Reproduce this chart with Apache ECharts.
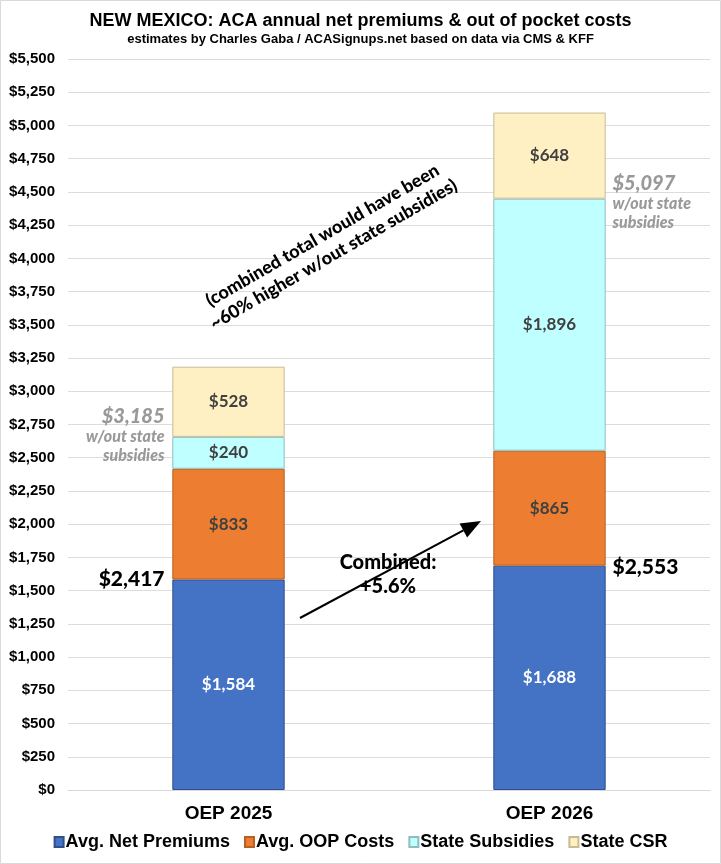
<!DOCTYPE html>
<html>
<head>
<meta charset="utf-8">
<script src="https://cdn.jsdelivr.net/npm/echarts@6/dist/echarts.min.js"></script>
<style>
  html, body { margin: 0; padding: 0; background: #fff; }
  #chart { width: 721px; height: 864px; }
</style>
</head>
<body>
<div id="chart"></div>
<script>
// data
var years = ['OEP 2025', 'OEP 2026'];
var netPremiums = [1584, 1688];
var oopCosts = [833, 865];
var stateSubsidies = [240, 1896];
var stateCSR = [528, 648];
var combinedTotals = ['$2,417', '$2,553'];
var withoutSubsidies = ['$3,185', '$5,097'];

var labelFont = 'Lato';
var axisFont = '"Liberation Sans", Arial, sans-serif';

function money(v) {
    return '$' + v.toLocaleString('en-US');
}

function segment(name, data, color, border, textColor) {
    return {
        name: name,
        type: 'bar',
        stack: 'total',
        barWidth: '35%',
        data: data,
        itemStyle: { color: color, borderColor: border, borderWidth: 1 },
        label: {
            show: true,
            position: 'inside',
            formatter: function (p) { return money(p.value); },
            color: textColor,
            fontFamily: labelFont,
            fontWeight: 'bold',
            fontSize: 17
        }
    };
}

var chartDom = document.getElementById('chart');
var myChart = echarts.init(chartDom);

option = {
    backgroundColor: '#fff',
    animation: false,
    title: {
        text: 'NEW MEXICO: ACA annual net premiums & out of pocket costs',
        subtext: 'estimates by Charles Gaba / ACASignups.net based on data via CMS & KFF',
        left: 'center',
        top: 7,
        itemGap: 3,
        textStyle: { fontFamily: axisFont, fontWeight: 'bold', fontSize: 18, color: '#000' },
        subtextStyle: { fontFamily: axisFont, fontWeight: 'bold', fontSize: 13, color: '#000' }
    },
    legend: {
        bottom: 8,
        left: 'center',
        icon: 'rect',
        itemWidth: 9,
        itemHeight: 10,
        itemGap: 14,
        textStyle: { fontFamily: axisFont, fontWeight: 'bold', fontSize: 18, color: '#000', padding: [0, 0, 0, -3] },
        data: ['Avg. Net Premiums', 'Avg. OOP Costs', 'State Subsidies', 'State CSR']
    },
    grid: { left: 68, right: 11, top: 59, bottom: 74 },
    xAxis: {
        type: 'category',
        data: years,
        axisTick: { show: false },
        axisLine: { lineStyle: { color: '#d9d9d9' } },
        axisLabel: { fontFamily: axisFont, fontWeight: 'bold', fontSize: 19, color: '#000', margin: 14 }
    },
    yAxis: {
        type: 'value',
        min: 0,
        max: 5500,
        interval: 250,
        axisLabel: {
            formatter: function (v) { return money(v); },
            fontFamily: axisFont, fontWeight: 'bold', fontSize: 15, color: '#000', margin: 13
        },
        splitLine: { lineStyle: { color: '#dcdcdc' } }
    },
    series: [
        segment('Avg. Net Premiums', netPremiums, '#4472C4', '#2f4f8a', '#fff'),
        segment('Avg. OOP Costs', oopCosts, '#ED7D31', '#b85f22', '#404040'),
        segment('State Subsidies', stateSubsidies, '#C0FFFF', '#8fbdbd', '#404040'),
        segment('State CSR', stateCSR, '#FFF0C4', '#c8bb94', '#404040')
    ]
};

myChart.setOption(option);

// annotations placed from the data scale
var g = [];
for (var i = 0; i < years.length; i++) {
    var combined = netPremiums[i] + oopCosts[i];
    var subsTop = combined + stateSubsidies[i];
    var pTop = myChart.convertToPixel({ gridIndex: 0 }, [i, netPremiums[i]]);
    var pSub = myChart.convertToPixel({ gridIndex: 0 }, [i, subsTop]);
    var left = i === 0;
    var dx = left ? -64 : 63;
    var align = left ? 'right' : 'left';
    g.push({
        type: 'text',
        x: pTop[0] + dx, y: pTop[1] + (left ? 0 : 2),
        style: {
            text: combinedTotals[i], align: align, verticalAlign: 'middle',
            font: '900 21px ' + labelFont, fill: '#000'
        }
    });
    g.push({
        type: 'text',
        x: pSub[0] + dx, y: pSub[1] + (left ? -20 : -15),
        style: {
            text: withoutSubsidies[i], align: align, verticalAlign: 'middle',
            font: 'italic 900 20px ' + labelFont, fill: '#999'
        }
    });
    g.push({
        type: 'text',
        x: pSub[0] + dx, y: pSub[1] + (left ? -10 : -4),
        style: {
            text: 'w/out state\nsubsidies', align: align, verticalAlign: 'top',
            font: 'italic 900 16px ' + labelFont, fill: '#999', lineHeight: 19
        }
    });
}

// arrow from bar 1 toward bar 2
var ax1 = 300, ay1 = 618, ax2 = 481, ay2 = 521;
var ang = Math.atan2(ay2 - ay1, ax2 - ax1);
var headLen = 20, headHalf = 8;
var bx = ax2 - headLen * Math.cos(ang), by = ay2 - headLen * Math.sin(ang);
g.push({
    type: 'line',
    shape: { x1: ax1, y1: ay1, x2: bx, y2: by },
    style: { stroke: '#000', lineWidth: 2 }
});
g.push({
    type: 'polygon',
    shape: {
        points: [
            [ax2, ay2],
            [bx + headHalf * Math.sin(ang), by - headHalf * Math.cos(ang)],
            [bx - headHalf * Math.sin(ang), by + headHalf * Math.cos(ang)]
        ]
    },
    style: { fill: '#000' }
});
g.push({
    type: 'text',
    x: 388, y: 575,
    style: {
        text: 'Combined:\n+5.6%', align: 'center', verticalAlign: 'middle',
        font: '900 20px ' + labelFont, fill: '#000', lineHeight: 24
    }
});
g.push({
    type: 'text',
    x: 328, y: 245,
    rotation: Math.PI / 6,
    style: {
        text: '(combined total would have been\n~60% higher w/out state subsidies)',
        align: 'center', verticalAlign: 'middle',
        font: '900 18px ' + labelFont, fill: '#000', lineHeight: 22
    }
});
g.push({
    type: 'rect',
    shape: { x: 0.5, y: 0.5, width: 720, height: 863 },
    style: { fill: 'none', stroke: '#d9d9d9', lineWidth: 1 },
    silent: true
});

myChart.setOption({ graphic: g });
</script>
</body>
</html>
